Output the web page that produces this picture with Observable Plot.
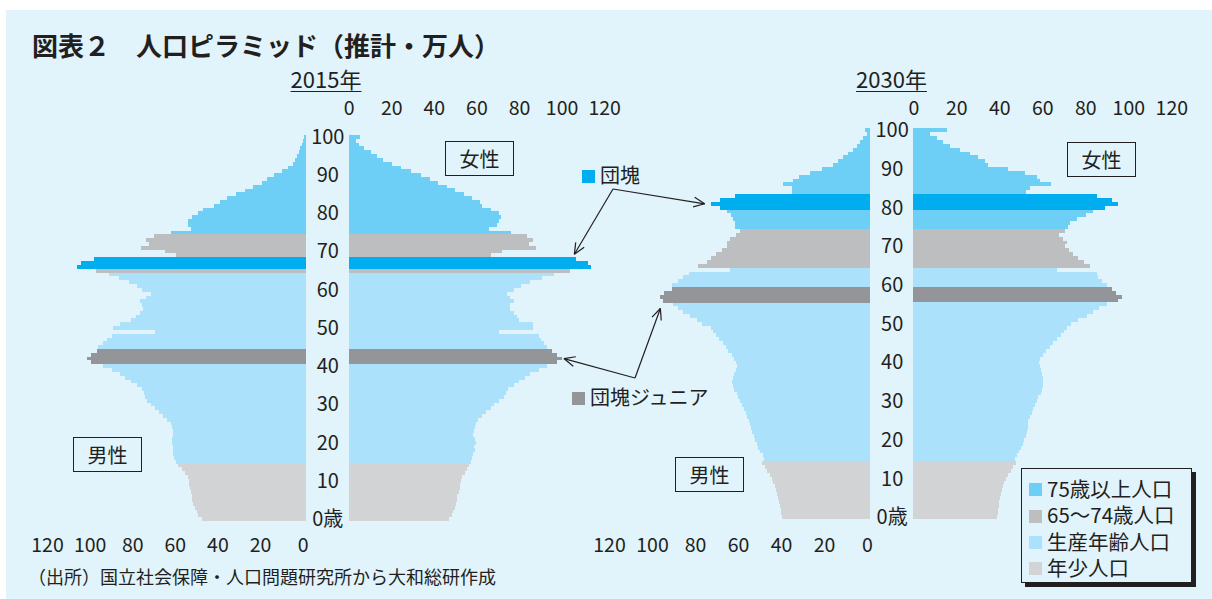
<!DOCTYPE html>
<html><head><meta charset="utf-8">
<script src="https://cdn.jsdelivr.net/npm/d3@7"></script>
<script src="https://cdn.jsdelivr.net/npm/@observablehq/plot@0.6"></script>
<style>
html,body{margin:0;padding:0;background:#fff;}
body{width:1212px;height:599px;position:relative;overflow:hidden;font-family:"Noto Sans CJK JP","Noto Sans",sans-serif;color:#231f20;}
#panel{position:absolute;left:6px;top:10px;width:1206px;height:589px;background:#e1f3fb;}
.abs{position:absolute;white-space:nowrap;}
.box{position:absolute;border:1.3px solid #231f20;box-sizing:border-box;display:flex;align-items:center;justify-content:center;font-size:20px;}
.sw{display:inline-block;width:13px;height:13px;vertical-align:middle;margin-right:6px;}
svg{overflow:visible;}
</style></head><body>
<div id="panel"></div>
<script>
// ---------- data (万人), index = age 0..100 (100 = 100歳以上) ----------
const ages = d3.range(0, 101);
const male2015 = [48.8,50.4,51.2,52.0,52.8,53.1,53.5,54.0,54.3,54.6, 54.6,55.1,56.7,58.2,59.8,60.9,61.8,62.1,62.1,62.4,
 62.9,62.9,62.1,62.1,62.9,63.4,65.0,66.8,68.7,70.8, 72.8,74.4,75.4,75.9,77.0,79.3,82.2,84.8,87.2,91.1,
 95.3,100.9,102.5,100.9,97.8,97.4,95.0,93.4,91.1,70.8, 90.3,87.2,82.2,79.7,77.8,76.5,77.0,77.8,75.0,72.8,
 77.0,79.0,83.0,87.5,92.2,98.5,107.5,105.5,99.2,60.9, 66.1,77.3,73.4,74.7,71.2,63.2,54.0,55.1,55.4,53.1,
 50.4,48.1,43.1,40.2,37.1,32.7,28.5,24.6,20.7,18.0, 14.9,11.3,8.2,6.1,5.0,3.9,3.0,2.4,1.6,1.1, 0.6];
const female2015 = [47.1,48.7,49.2,49.8,50.2,50.7,51.0,51.8,52.3,52.3, 52.6,53.4,54.6,55.7,56.5,57.3,58.1,58.5,59.2,58.8,
 59.6,59.2,58.5,58.8,59.2,59.9,60.9,62.8,64.3,66.7, 68.2,70.6,72.9,73.7,74.8,77.6,80.0,82.6,85.4,89.4,
 93.3,98.0,100.3,98.0,95.6,93.3,91.7,90.1,89.4,70.6, 86.7,86.7,80.0,79.2,77.6,76.0,76.0,77.6,75.7,74.2,
 77.6,80.8,85.4,90.9,96.4,103.9,113.6,112.4,106.6,67.0, 72.1,87.8,84.6,86.5,83.9,76.4,65.9,69.8,70.6,71.4,
 70.6,66.7,62.8,61.5,58.1,54.1,49.9,46.3,41.9,38.2, 33.8,29.1,24.4,20.5,16.3,13.1,10.3,7.2,4.8,3.3, 5.3];
const male2030 = [40.9,41.2,41.6,41.9,42.2,42.6,43.1,43.7,44.2,45.0, 45.7,46.5,47.8,48.8,50.4,49.3,49.9,51.2,51.9,52.7,
 53.5,54.0,54.9,55.5,55.8,56.1,57.1,57.7,58.6,59.7, 60.5,61.2,62.0,63.3,63.9,64.2,63.9,63.3,62.3,62.0,
 62.3,63.3,64.3,65.9,67.0,68.5,70.1,71.6,73.2,74.1, 78.3,80.6,83.7,86.8,89.1,91.5,96.5,97.5,95.8,92.2,
 92.2,89.1,86.8,84.0,65.1,79.8,76.0,74.1,71.6,69.0, 66.4,66.4,65.1,62.5,60.5,62.8,62.8,63.6,64.8,66.4,
 70.0,74.1,69.8,62.8,36.4,36.4,40.3,35.7,32.9,27.9, 22.2,17.4,15.0,12.7,10.1,7.8,6.2,4.7,3.4,1.6, 2.5];
const female2030 = [39.1,39.4,39.5,39.7,40.0,40.3,40.6,41.1,41.6,42.2, 43.1,44.2,45.3,46.5,47.8,47.3,48.4,49.3,50.1,50.9,
 51.6,52.2,52.7,53.2,53.5,53.5,54.3,55.0,55.8,56.6, 57.4,58.1,59.2,59.8,60.2,60.5,60.2,59.7,59.2,58.9,
 58.6,58.9,60.2,61.7,63.6,65.1,66.7,68.5,70.1,71.6, 73.5,76.7,80.6,83.7,86.5,89.9,95.3,96.9,94.3,92.2,
 89.9,87.6,86.0,85.3,67.0,82.2,79.4,76.7,74.4,72.6, 70.5,71.6,69.5,67.9,70.5,72.1,72.9,76.3,80.3,83.7,
 89.1,95.3,92.2,85.6,52.2,54.3,63.9,58.9,57.4,51.9, 44.2,34.9,33.3,30.2,26.4,21.7,17.1,13.6,10.9,7.8, 15.8];
const dankaiAges = {2015: [66, 67, 68], 2030: [80, 81, 82, 83]};
const juniorAges = {2015: [41, 42, 43, 44], 2030: [56, 57, 58, 59]};
const groups = ["75歳以上人口", "65～74歳人口", "生産年齢人口", "年少人口", "団塊", "団塊ジュニア"];
const groupColors = ["#6dcff6", "#bcbec0", "#abe1fa", "#d1d3d4", "#00aeef", "#939598"];
const legendGroups = groups.slice(0, 4);
const xTicks = [0, 20, 40, 60, 80, 100, 120];
const ageTicks = [100, 90, 80, 70, 60, 50, 40, 30, 20, 10, 0];

// ---------- build tables ----------
function groupOf(age, year) {
  if (dankaiAges[year].includes(age)) return "団塊";
  if (juniorAges[year].includes(age)) return "団塊ジュニア";
  if (age >= 75) return "75歳以上人口";
  if (age >= 65) return "65～74歳人口";
  if (age >= 15) return "生産年齢人口";
  return "年少人口";
}
const rows = {
  2015: ages.map(a => ({age: a, male: male2015[a], female: female2015[a], group: groupOf(a, 2015)})),
  2030: ages.map(a => ({age: a, male: male2030[a], female: female2030[a], group: groupOf(a, 2030)}))
};
const agesDesc = ages.slice().reverse();
const FONT = '"Noto Sans CJK JP","Noto Sans",sans-serif';
const INK = "#231f20";

function place(el, left, top) { el.style.position = "absolute"; el.style.left = left + "px"; el.style.top = top + "px"; document.body.appendChild(el); return el; }
function text(str, x, cy, size, opts = {}) {
  const d = document.createElement("div");
  d.className = "abs";
  d.textContent = str;
  d.style.fontSize = size + "px";
  d.style.lineHeight = size + "px";
  d.style.fontWeight = opts.weight || 400;
  if (opts.underline) { d.style.textDecoration = "underline"; d.style.textUnderlineOffset = "3px"; d.style.textDecorationThickness = "1.3px"; }
  if (opts.center) d.style.transform = "translateX(-50%)";
  return place(d, x, cy - size / 2);
}

// ---------- pyramids ----------
const geo = {
  2015: {base: 305.7, gap: 42.6, top: 135, plotH: 386, k: 2.13},
  2030: {base: 870, gap: 43.3, top: 128.3, plotH: 391, k: 2.15}
};
const svgTop = 95;
const TICKFS = 19.5;
const plots = {};
for (const year of [2015, 2030]) {
  const g = geo[year];
  const wx = 120 * g.k;
  const mTop = g.top - svgTop;
  const common = {
    color: {domain: groups, range: groupColors},
    style: {background: "transparent", fontFamily: FONT, fontSize: "18px", color: INK, overflow: "visible"}
  };
  // female (right), with age labels in the center column
  const fem = Plot.plot({
    ...common,
    width: g.gap + wx + 30, height: mTop + g.plotH + 10,
    marginLeft: g.gap, marginRight: 30, marginTop: mTop, marginBottom: 10,
    x: {domain: [0, 120]},
    y: {type: "band", domain: agesDesc, padding: 0},
    marks: [
      Plot.barX(rows[year], {y: "age", x: "female", fill: "group", shapeRendering: "crispEdges"}),
      Plot.axisX({anchor: "top", ticks: xTicks, tickSize: 0, tickPadding: g.top - 115, fontSize: TICKFS, label: null}),
      Plot.axisY({anchor: "left", ticks: ageTicks, tickSize: 0, tickPadding: 0, textAnchor: "middle", dx: -g.gap / 2,
        tickFormat: d => d === 0 ? "0歳" : String(d), fontSize: 20, label: null})
    ]
  });
  place(fem, g.base, svgTop);
  // male (left)
  const mLeft = 32;
  const mal = Plot.plot({
    ...common,
    width: mLeft + wx, height: mTop + g.plotH + 40,
    marginLeft: mLeft, marginRight: 0, marginTop: mTop, marginBottom: 40,
    x: {domain: [120, 0]},
    y: {type: "band", domain: agesDesc, padding: 0, axis: null},
    marks: [
      Plot.barX(rows[year], {y: "age", x: "male", fill: "group", shapeRendering: "crispEdges"}),
      Plot.axisX({anchor: "bottom", ticks: xTicks, tickSize: 0, tickPadding: 538 - (g.top + g.plotH), dx: -3, fontSize: TICKFS, label: null})
    ]
  });
  place(mal, g.base - wx - mLeft, svgTop);
  plots[year] = {fem, mal, femLeft: g.base, malLeft: g.base - wx - mLeft};
}

// ---------- texts ----------
text("図表２　人口ピラミッド（推計・万人）", 32, 45, 26, {weight: 700});
text("2015年", 326, 78, 22, {underline: true, center: true});
text("2030年", 891.5, 78, 22, {underline: true, center: true});
text("（出所）国立社会保障・人口問題研究所から大和総研作成", 28, 576, 18);

function sexBox(str, l, t, r, b) {
  const d = document.createElement("div");
  d.className = "box"; d.textContent = str;
  d.style.width = (r - l) + "px"; d.style.height = (b - t) + "px";
  place(d, l, t);
}
sexBox("女性", 445, 141, 514, 176);
sexBox("男性", 73, 437, 142, 472);
sexBox("女性", 1067, 142, 1136, 177);
sexBox("男性", 675, 457, 744, 492);

// annotation labels
function swLabel(str, color, x, cy, fs = 20) {
  const d = document.createElement("div");
  d.className = "abs"; d.style.fontSize = fs + "px"; d.style.lineHeight = "20px";
  d.innerHTML = `<span class="sw" style="background:${color};margin-top:-3px;margin-right:5px"></span>${str}`;
  place(d, x, cy - 10);
}
swLabel("団塊", groupColors[groups.indexOf("団塊")], 582, 175);
swLabel("団塊ジュニア", groupColors[groups.indexOf("団塊ジュニア")], 572, 397);

// legend (frame + items placed separately)
const lg = document.createElement("div");
lg.style.cssText = `width:171px;height:115px;border:1.5px solid ${INK};box-sizing:border-box;background:#e1f3fb;box-shadow:4px 4px 0 ${INK};`;
place(lg, 1021, 468);
legendGroups.forEach((gname, i) => swLabel(gname, groupColors[i], 1029, 488 + i * 26.3, 20.5));

// ---------- arrows, anchored on the bars through the plot scales ----------
const ov = d3.select(document.body).append("svg")
  .attr("width", 1212).attr("height", 599)
  .style("position", "absolute").style("left", 0).style("top", 0).style("pointer-events", "none");
function px(year, side, value, age) {
  const p = plots[year];
  const pl = side === "f" ? p.fem : p.mal;
  const sx = pl.scale("x"), sy = pl.scale("y");
  return {x: (side === "f" ? p.femLeft : p.malLeft) + sx.apply(value),
          y: svgTop + sy.apply(age), bw: sy.bandwidth};
}
function arrow(from, to) {
  ov.append("line").attr("x1", from[0]).attr("y1", from[1]).attr("x2", to[0]).attr("y2", to[1])
    .attr("stroke", INK).attr("stroke-width", 1.2);
  const dx = to[0] - from[0], dy = to[1] - from[1], L = Math.hypot(dx, dy);
  const ux = dx / L, uy = dy / L, h = 12, th = 0.42;
  for (const s of [-1, 1]) {
    const c = Math.cos(s * th), sn = Math.sin(s * th);
    const rx = ux * c - uy * sn, ry = ux * sn + uy * c;
    ov.append("line").attr("x1", to[0]).attr("y1", to[1]).attr("x2", to[0] - rx * h).attr("y2", to[1] - ry * h)
      .attr("stroke", INK).attr("stroke-width", 1.2);
  }
}
const dk15 = px(2015, "f", female2015[68], 68);
const dk30 = px(2030, "m", male2030[81], 81);
const jr15 = px(2015, "f", female2015[42], 42);
const jr30 = px(2030, "m", male2030[57], 56);
arrow([613, 189], [dk15.x - 1, dk15.y - 3]);
arrow([613, 189], [dk30.x - 6, dk30.y + dk30.bw / 2]);
arrow([635, 378], [jr15.x + 2, jr15.y + jr15.bw / 2]);
arrow([635, 378], [jr30.x, jr30.y + jr30.bw + 6]);
</script>
</body></html>
